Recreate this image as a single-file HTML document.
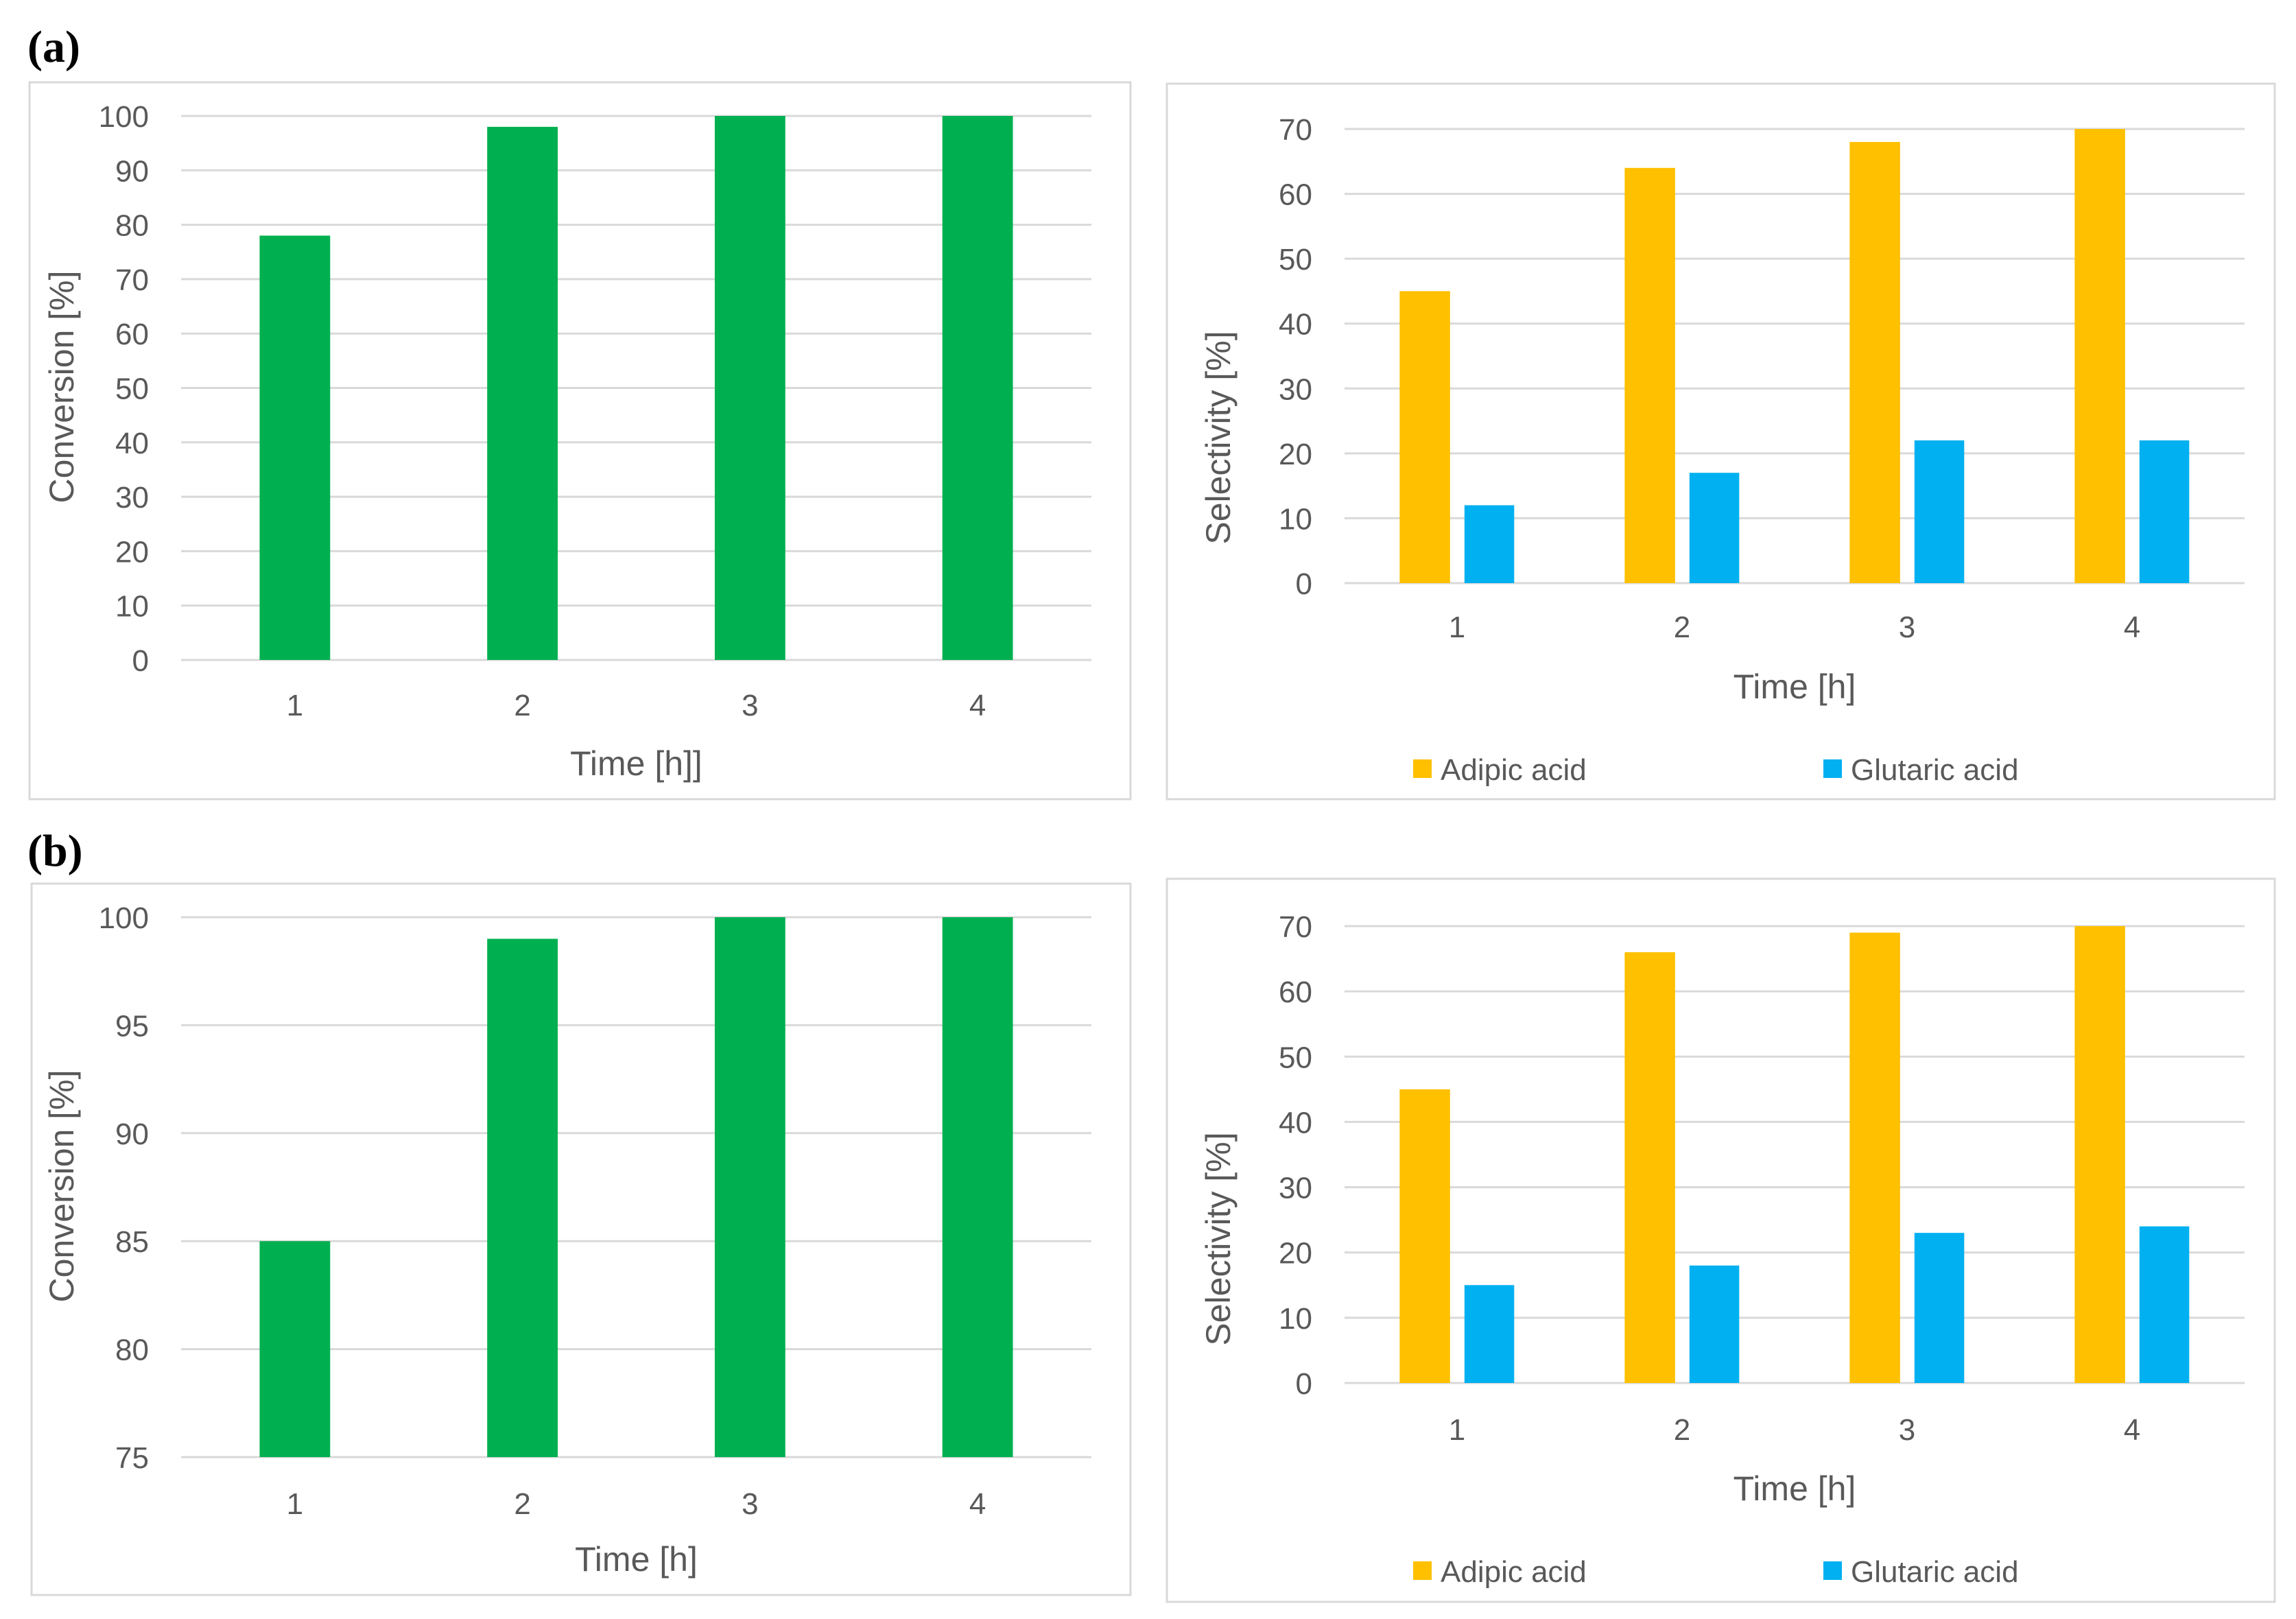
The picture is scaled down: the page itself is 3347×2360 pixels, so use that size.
<!DOCTYPE html>
<html><head><meta charset="utf-8"><style>
html,body{margin:0;padding:0;background:#fff;}
svg{display:block;font-family:"Liberation Sans",sans-serif;}
</style></head><body>
<svg id="fig" width="3347" height="2360" viewBox="0 0 3347 2360" xmlns="http://www.w3.org/2000/svg">
<rect x="0" y="0" width="3347" height="2360" fill="#fff"/>
<text x="40" y="90" font-family="Liberation Serif,serif" font-size="66" font-weight="bold" fill="#000">(a)</text>
<text x="40" y="1262" font-family="Liberation Serif,serif" font-size="66" font-weight="bold" fill="#000">(b)</text>
<g id="charts"></g>
</svg>
<script>
const categories = ["1","2","3","4"];
const convA = [78, 98, 100, 100];
const convB = [85, 99, 100, 100];
const adipicA = [45, 64, 68, 70];
const glutaricA = [12, 17, 22, 22];
const adipicB = [45, 66, 69, 70];
const glutaricB = [15, 18, 23, 24];
const ticksConvA = [0,10,20,30,40,50,60,70,80,90,100];
const ticksConvB = [75,80,85,90,95,100];
const ticksSel = [0,10,20,30,40,50,60,70];
const seriesNames = ["Adipic acid","Glutaric acid"];

const NS="http://www.w3.org/2000/svg";
const root=document.getElementById('charts');
function mk(tag,attrs,parent,text){const e=document.createElementNS(NS,tag);for(const k in attrs)e.setAttribute(k,attrs[k]);if(text!==undefined)e.textContent=text;(parent||root).appendChild(e);return e;}

function chart(cfg){
  const g=mk('g',{});
  
  
  const fr=mk('rect',{x:cfg.frame[0],y:cfg.frame[1],width:cfg.frame[2]-cfg.frame[0],height:cfg.frame[3]-cfg.frame[1],fill:'#fff',stroke:'#d9d9d9','stroke-width':3},g);
  
  
  const [x0,x1]=cfg.px,[yTop,yBot]=cfg.py,[vmin,vmax]=cfg.range;
  const yS=v=>yBot-(v-vmin)/(vmax-vmin)*(yBot-yTop);
  const band=(x1-x0)/categories.length;
  const xS=i=>x0+band*i;
  cfg.ticks.forEach(t=>{
    const l=mk('line',{x1:x0,x2:x1,y1:yS(t),y2:yS(t),stroke:'#d9d9d9','stroke-width':3},g);
    
    
    const tx=mk('text',{x:cfg.tickRight,y:yS(t)+16,'text-anchor':'end','font-size':44,fill:'#595959'},g,String(t));
    
    
  });
  cfg.series.forEach((s,si)=>{
    s.values.forEach((v,i)=>{
      const bx=xS(i)+s.off*band, bw=s.w*band;
      const r=mk('rect',{x:bx,y:yS(v),width:bw,height:yS(vmin)-yS(v),fill:s.color},g);
      
      
    });
  });
  categories.forEach((c,i)=>{
    const t=mk('text',{x:xS(i)+band/2,y:cfg.xTickY+16,'text-anchor':'middle','font-size':44,fill:'#595959'},g,c);
    
    
  });
  const xt=mk('text',{x:(x0+x1)/2,y:cfg.xTitleY+18,'text-anchor':'middle','font-size':50,fill:'#595959'},g,cfg.xTitle);
  
  
  const yt=mk('text',{x:0,y:0,'text-anchor':'middle','font-size':50,fill:'#595959',transform:`translate(${cfg.yTitleX+17},${cfg.yTitleY}) rotate(-90)`},g,cfg.yTitle);
  
  
  if(cfg.legendY){
    const items=[[2060,'#ffc000'],[2658,'#00b0f0']];
    items.forEach((it,k)=>{
      const lg=mk('g',{},g);
      
      
      mk('rect',{x:it[0],y:cfg.legendY-14,width:27,height:27,fill:it[1]},lg);
      mk('text',{x:it[0]+40,y:cfg.legendY+16,'font-size':44,fill:'#595959'},lg,seriesNames[k]);
    });
  }
}
chart({name:'conversion-chart-a',frame:[43,120,1648,1165],px:[264,1591],py:[169,962],range:[0,100],ticks:ticksConvA,tickRight:217,
  series:[{key:'conversion',values:convA,color:'#00b050',off:0.345,w:0.31}],xTickY:1027,xTitleY:1112,xTitle:'Time [h]]',yTitleX:90,yTitleY:564,yTitle:'Conversion [%]'});
chart({name:'selectivity-chart-a',frame:[1701,122,3316,1165],px:[1960,3272],py:[188,850],range:[0,70],ticks:ticksSel,tickRight:1913,
  series:[{key:'adipic',values:adipicA,color:'#ffc000',off:0.245,w:0.224},{key:'glutaric',values:glutaricA,color:'#00b0f0',off:0.533,w:0.221}],
  xTickY:913,xTitleY:1000,xTitle:'Time [h]',yTitleX:1776,yTitleY:638,yTitle:'Selectivity [%]',legendY:1121});
chart({name:'conversion-chart-b',frame:[46,1288,1648,2325],px:[264,1591],py:[1337,2124],range:[75,100],ticks:ticksConvB,tickRight:217,
  series:[{key:'conversion',values:convB,color:'#00b050',off:0.345,w:0.31}],xTickY:2191,xTitleY:2272,xTitle:'Time [h]',yTitleX:90,yTitleY:1729,yTitle:'Conversion [%]'});
chart({name:'selectivity-chart-b',frame:[1701,1281,3316,2335],px:[1960,3272],py:[1350,2016],range:[0,70],ticks:ticksSel,tickRight:1913,
  series:[{key:'adipic',values:adipicB,color:'#ffc000',off:0.245,w:0.224},{key:'glutaric',values:glutaricB,color:'#00b0f0',off:0.533,w:0.221}],
  xTickY:2083,xTitleY:2169,xTitle:'Time [h]',yTitleX:1776,yTitleY:1806,yTitle:'Selectivity [%]',legendY:2290});
</script>
</body></html>
